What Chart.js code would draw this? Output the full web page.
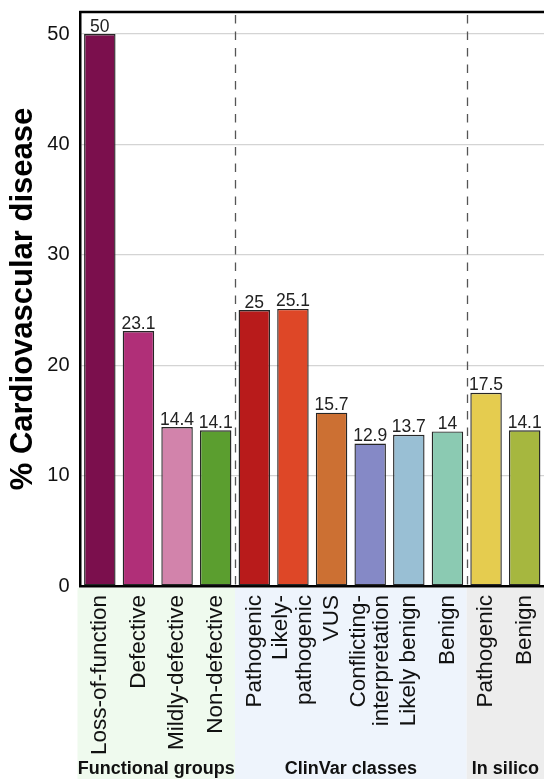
<!DOCTYPE html>
<html>
<head>
<meta charset="utf-8">
<script src="https://cdn.jsdelivr.net/npm/chart.js@4.4.1/dist/chart.umd.min.js"></script>
<style>
  html, body { margin: 0; padding: 0; background: #fff; overflow: hidden; }
  canvas { display: block; }
</style>
</head>
<body>
<canvas id="cvdChart" width="544" height="779"></canvas>
<script>
// -------------------------------
// DONNEES
// -------------------------------
const CATEGORIES = [
  "Loss-of-function", "Defective", "Mildly-defective", "Non-defective",
  "Pathogenic", ["Likely-", "pathogenic"], "VUS", ["Conflicting-", "interpretation"], "Likely benign", "Benign",
  "Pathogenic", "Benign"
];
const VALUES = [50, 23.1, 14.4, 14.1, 25, 25.1, 15.7, 12.9, 13.7, 14, 17.5, 14.1];
const BAR_COLORS = [
  "#7b0f4d", "#b02f78", "#d283ab", "#5b9e2f",
  "#b81b1b", "#de4727", "#cc7033", "#8589c6", "#99bfd4", "#8bcab2",
  "#e5cc4f", "#a6b73f"
];
const Y_TICKS = [0, 10, 20, 30, 40, 50];

// groupes (index de la premiere categorie de chaque groupe)
const GROUP_NAMES = ["Functional groups", "ClinVar classes", "In silico"];
const GROUP_STARTS = [0, 4, 10];
const GROUP_BG = ["#effaee", "#eef4fc", "#ededed"];

const FONT = "'Liberation Sans', Arial, Helvetica, sans-serif";
const TICK_LINE_HEIGHT = 1.05;
const TICK_SIZE = 22.5;

// -------------------------------
// PLUGINS
// -------------------------------

// fonds colores sous l'axe + noms des groupes
const groupPlugin = {
  id: "groups",
  beforeDraw(chart) {
    const { ctx, chartArea, scales: { x } } = chart;
    const ends = GROUP_STARTS.slice(1).map(s => x.getPixelForValue(s - 0.5));
    ctx.save();
    GROUP_NAMES.forEach((name, i) => {
      const left = i === 0 ? chartArea.left - 3 : ends[i - 1];
      const right = i < ends.length ? ends[i] : chartArea.right;
      ctx.fillStyle = GROUP_BG[i];
      ctx.fillRect(left, chartArea.bottom + 2, right - left, chart.height - chartArea.bottom);
      ctx.fillStyle = "#111";
      ctx.font = "bold 18px " + FONT;
      ctx.textAlign = "center";
      ctx.textBaseline = "alphabetic";
      ctx.fillText(name, (left + right) / 2, chart.height - 5);
    });
    ctx.restore();

    // centrer les etiquettes sur plusieurs lignes
    const lh = TICK_SIZE * TICK_LINE_HEIGHT;
    x.getLabelItems().forEach(item => {
      if (Array.isArray(item.label) && item.label.length > 1 && !item._shifted) {
        item.options.translation[0] -= (item.label.length - 1) * lh / 2;
        item._shifted = true;
      }
    });
  },
  afterDatasetsDraw(chart) {
    const { ctx, chartArea, scales: { x } } = chart;
    ctx.save();
    // separateurs pointilles
    ctx.strokeStyle = "#555";
    ctx.lineWidth = 1.3;
    ctx.setLineDash([8.5, 8]);
    GROUP_STARTS.slice(1).forEach(s => {
      const px = Math.round(x.getPixelForValue(s - 0.5)) + 0.5;
      ctx.beginPath();
      ctx.moveTo(px, chartArea.top + 3);
      ctx.lineTo(px, chartArea.bottom);
      ctx.stroke();
    });
    ctx.setLineDash([]);

    // bord superieur
    ctx.strokeStyle = "#000";
    ctx.lineWidth = 2.5;
    ctx.beginPath();
    ctx.moveTo(chartArea.left - 1.25, chartArea.top);
    ctx.lineTo(chartArea.right, chartArea.top);
    ctx.stroke();

    // valeurs au-dessus des barres
    const meta = chart.getDatasetMeta(0);
    ctx.fillStyle = "#222";
    ctx.font = "17.5px " + FONT;
    ctx.textAlign = "center";
    ctx.textBaseline = "alphabetic";
    meta.data.forEach((bar, i) => {
      ctx.fillText(String(VALUES[i]), bar.x, bar.y - 2.5);
    });
    ctx.restore();
  }
};

// -------------------------------
// GRAPHIQUE
// -------------------------------
const ctx = document.getElementById("cvdChart").getContext("2d");

new Chart(ctx, {
  type: "bar",
  data: {
    labels: CATEGORIES,
    datasets: [{
      data: VALUES,
      backgroundColor: BAR_COLORS,
      borderColor: "#262626",
      borderWidth: 1.4,
      borderSkipped: false,
      barPercentage: 0.815,
      categoryPercentage: 1
    }]
  },
  options: {
    responsive: false,
    animation: false,
    devicePixelRatio: 1,
    layout: { padding: { top: 12, left: 0, right: 0, bottom: 0 } },
    plugins: {
      legend: { display: false },
      tooltip: { enabled: false }
    },
    scales: {
      x: {
        offset: true,
        grid: { display: false },
        border: { display: true, color: "#000", width: 2.5 },
        ticks: {
          autoSkip: false,
          maxRotation: 90,
          minRotation: 90,
          padding: 1,
          color: "#111",
          font: { family: FONT, size: TICK_SIZE, lineHeight: TICK_LINE_HEIGHT }
        },
        afterFit(scale) {
          scale.height = 193;
          scale.paddingLeft = 0;
          scale.paddingRight = 0;
        }
      },
      y: {
        min: 0,
        max: 52,
        grid: { color: "#d4d4d4", lineWidth: 1.2, drawTicks: false },
        border: { display: true, color: "#000", width: 2.5 },
        ticks: {
          stepSize: 10,
          padding: 11,
          color: "#111",
          font: { family: FONT, size: 20 }
        },
        afterBuildTicks(scale) {
          scale.ticks = Y_TICKS.map(v => ({ value: v }));
        },
        title: {
          display: true,
          text: "% Cardiovascular disease",
          color: "#000",
          padding: { top: 5, bottom: 0 },
          font: { family: FONT, size: 31, weight: "bold", lineHeight: 1.2 }
        },
        afterFit(scale) {
          scale.width = 80.5;
          scale.paddingTop = 0;
          scale.paddingBottom = 0;
        }
      }
    }
  },
  plugins: [groupPlugin]
});
</script>
</body>
</html>
